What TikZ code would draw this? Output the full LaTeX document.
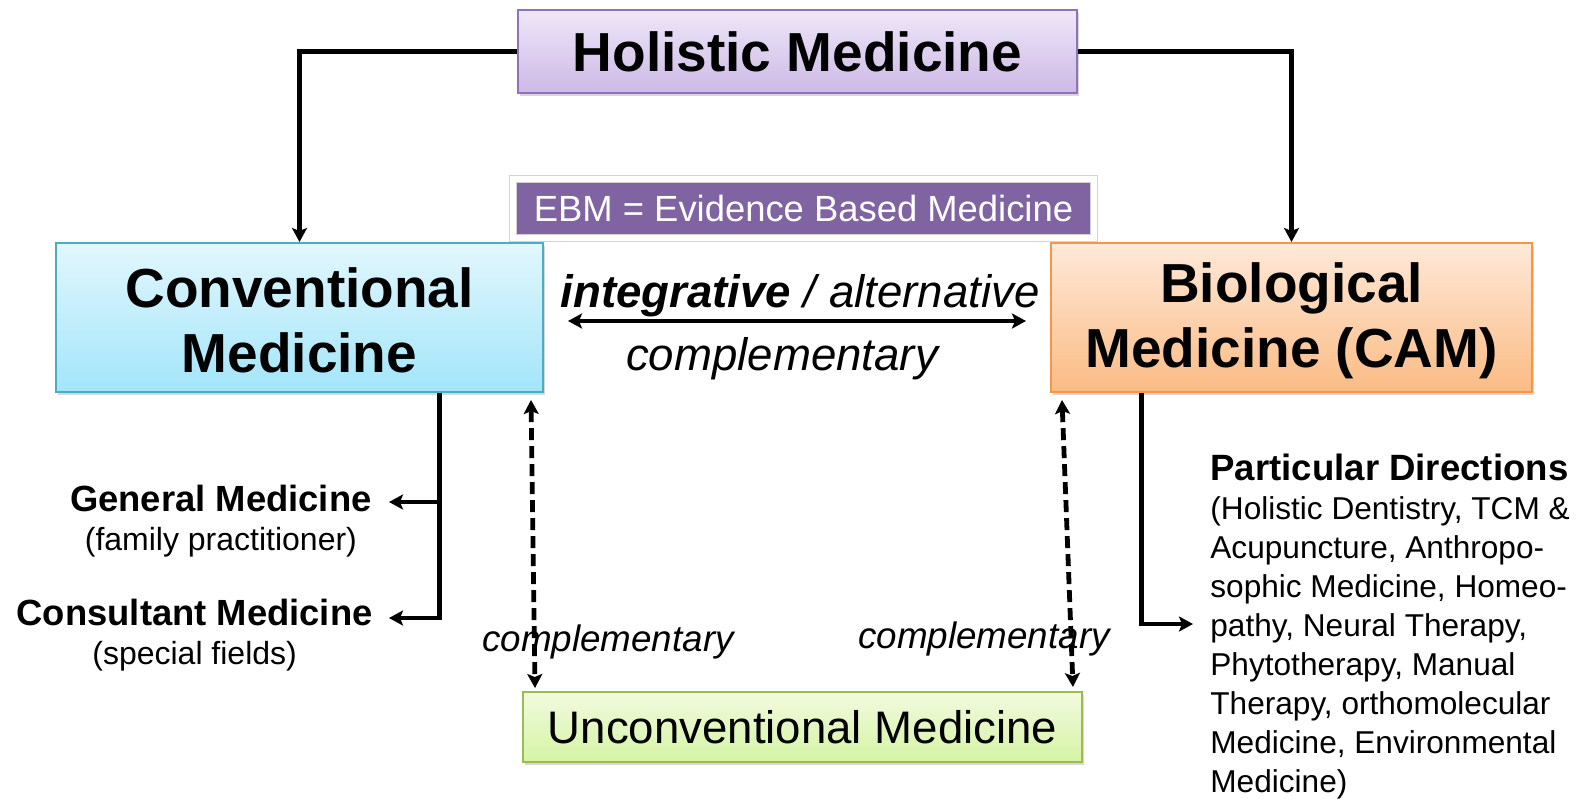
\documentclass[tikz,border=0pt]{standalone}
\usepackage{fontspec}
\setmainfont{Liberation Sans}
\usepackage{xcolor}
\usepackage{tikz}
\usetikzlibrary{arrows.meta, positioning, calc, shadows}

\definecolor{holtop}{HTML}{EEE7F8}
\definecolor{holbot}{HTML}{CDB9E6}
\definecolor{holdraw}{HTML}{8F72B8}
\definecolor{ebmfill}{HTML}{8064A2}
\definecolor{convtop}{HTML}{E2F7FD}
\definecolor{convbot}{HTML}{A3E5FA}
\definecolor{convdraw}{HTML}{4BACC6}
\definecolor{biotop}{HTML}{FEE9D9}
\definecolor{biobot}{HTML}{FBBB84}
\definecolor{biodraw}{HTML}{F79646}
\definecolor{unctop}{HTML}{F2FADF}
\definecolor{uncbot}{HTML}{D5F4A4}
\definecolor{uncdraw}{HTML}{9BBB59}

\begin{document}
\begin{tikzpicture}[
    x=0.5pt, y=-0.5pt,
    box/.style={rectangle, line width=1pt, inner sep=0pt, align=center, drop shadow={shadow xshift=1.2pt, shadow yshift=-1.5pt, opacity=0.3}},
    bigtxt/.style={font=\fontsize{27.5}{32.3}\selectfont\bfseries},
    tip/.style={Stealth[length=7pt, width=7.5pt, inset=1.5pt]},
    arrow/.style={-{Stealth[length=7pt, width=7.5pt, inset=1.5pt]}, line width=2.1pt},
    dblarrow/.style={{Stealth[length=7pt, width=7.5pt, inset=1.5pt]}-{Stealth[length=7pt, width=7.5pt, inset=1.5pt]}, line width=2.1pt},
    dasharrow/.style={dblarrow, line width=2.4pt, dash pattern=on 6pt off 3pt},
    lbl/.style={font=\fontsize{18.4}{22}\selectfont\itshape},
    sub/.style={anchor=east, align=center, inner sep=0pt, font=\fontsize{16}{19.5}\selectfont}
]

\fill[white] (0,0) rectangle (1583,798);
\useasboundingbox (0,0) rectangle (1583,798);

% Boxes
\node[box, top color=holtop, bottom color=holbot, draw=holdraw, minimum width=279.5pt, minimum height=41.5pt, bigtxt] (holistic) at (797.5,51.5) {Holistic Medicine};
\node[rectangle, fill=ebmfill, draw=gray!35, double=white, double distance=3.4pt, line width=0.3pt, minimum width=290.5pt, minimum height=29.5pt, text=white, font=\fontsize{18.2}{22}\selectfont, drop shadow={shadow xshift=0.8pt, shadow yshift=-0.8pt, opacity=0.15}] (ebm) at (803.5,208.5) {EBM = Evidence Based Medicine};
\node[box, top color=convtop, bottom color=convbot, draw=convdraw, minimum width=243.5pt, minimum height=74.5pt, bigtxt] (conv) at (299.5,317.5) {\rule{0pt}{23pt}Conventional\\Medicine};
\node[box, top color=biotop, bottom color=biobot, draw=biodraw, minimum width=240.5pt, minimum height=74.5pt, bigtxt] (bio) at (1291.5,317.5) {\rule{0pt}{23pt}Biological\\Medicine (CAM)};
\node[box, top color=unctop, bottom color=uncbot, draw=uncdraw, minimum width=279.5pt, minimum height=35pt, font=\fontsize{22.8}{27}\selectfont] (uncon) at (802.5,727) {Unconventional Medicine};

% Sub fields
\node[sub] (general) at (372,521.5) {{\bfseries\fontsize{18.2}{19.5}\selectfont General Medicine}\\(family practitioner)\hspace{6pt}};
\node[sub] (consult) at (373,635.5) {{\bfseries\fontsize{18.2}{19.5}\selectfont Consultant Medicine}\\(special fields)\hspace{6pt}};
\node[anchor=north west, align=left, inner sep=0pt, font=\fontsize{15.8}{19.5}\selectfont] (directions) at (1210,454) {{\bfseries\fontsize{18.3}{19.5}\selectfont Particular Directions}\\(Holistic Dentistry, TCM \&\\Acupuncture, Anthropo-\\sophic Medicine, Homeo-\\pathy, Neural Therapy,\\Phytotherapy, Manual\\Therapy, orthomolecular\\Medicine, Environmental\\Medicine)};

% Labels
\node[font=\fontsize{22.8}{27}\selectfont\itshape] (alt) at (800,296) {\textbf{integrative} / alternative};
\node[font=\fontsize{22.8}{27}\selectfont\itshape] (compl) at (782,359) {complementary};
\node[lbl] (lcompl) at (608,642) {complementary};
\node[lbl] (rcompl) at (984,639) {complementary};

% Arrows
\draw[arrow] (holistic.west) -| (conv.north);
\draw[arrow] (holistic.east) -| (bio.north);
\draw[dblarrow] ($(conv.east)+(24,3.5)$) -- ($(bio.west)+(-24,3.5)$);

\coordinate (split) at ($(conv.south)+(140,0)$);
\coordinate (gentip) at (389,502);
\coordinate (contip) at (389,618);
\draw[arrow] (split) |- (contip);
\draw[arrow] (split |- gentip) -- (gentip);

\coordinate (biodrop) at ($(bio.south)+(-150,0)$);
\coordinate (dirtip) at (1193,624);
\draw[arrow] (biodrop) |- (dirtip);

\draw[dasharrow] ([xshift=-6.5pt, yshift=-3.5pt]conv.south east) -- ([xshift=6.5pt, yshift=1.5pt]uncon.north west);
\draw[dasharrow] ([xshift=6pt, yshift=-3.5pt]bio.south west) -- ([xshift=-5pt, yshift=2pt]uncon.north east);

\end{tikzpicture}
\end{document}
